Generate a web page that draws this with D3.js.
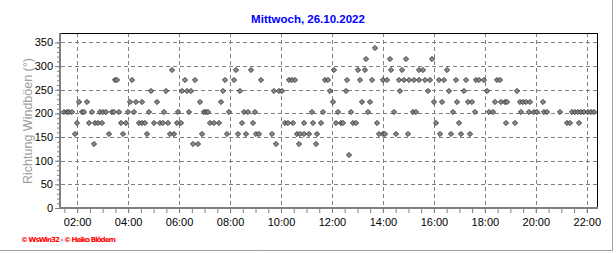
<!DOCTYPE html>
<html>
<head>
<meta charset="utf-8">
<script src="https://cdn.jsdelivr.net/npm/d3@7"></script>
<style>
  body { margin: 0; background: #fff; }
  svg { display: block; }
</style>
</head>
<body>
<script>
// Wind gust direction, Wednesday 26.10.2022
// one array of "HH:MM" readings per compass direction (degrees)

var dir112 = ["12:40"];
var dir135 = ["02:40", "06:32", "06:45", "09:48", "10:42", "11:22"];
var dir157 = ["01:55", "03:15", "03:48", "04:45", "05:38", "05:48", "06:53", "07:53", "08:19", "08:38",
              "09:02", "09:09", "09:39", "10:38", "10:45", "10:54", "11:07", "11:25",
              "13:51", "13:59", "14:05", "14:31", "15:00", "16:15", "16:40", "17:04", "17:25"];
var dir180 = ["02:00", "02:28", "02:43", "02:50", "02:58", "03:43", "03:54", "04:25", "04:32", "04:40",
              "05:00", "05:14", "05:21", "05:34", "05:55", "06:05", "07:13", "07:23", "07:35", "08:28",
              "08:54", "10:09", "10:16", "10:29", "10:53", "11:16", "11:34",
              "12:09", "12:21", "12:27", "12:49", "12:56", "13:47", "16:05", "17:00", "18:49", "19:10",
              "21:14", "21:20", "21:41"];
var dir202 = ["01:29", "01:36", "01:42", "01:48", "02:11", "02:17", "02:36", "02:54", "03:02", "03:09",
              "03:22", "03:26", "03:39", "04:00", "04:14", "04:49", "05:25", "05:58", "06:24", "06:59",
              "07:04", "07:09", "07:58", "08:33", "08:43", "08:59", "11:13", "11:39",
              "12:15", "12:45", "13:25", "14:26", "15:11", "15:18", "16:45", "17:36", "18:10", "18:18",
              "19:25", "19:44", "19:55", "20:02", "20:20", "20:27", "20:56", "21:26", "21:33", "21:39",
              "21:47", "21:54", "22:02", "22:09", "22:17"];
var dir225 = ["02:04", "02:24", "04:05", "04:19", "04:33", "05:08", "06:49", "07:38",
              "12:02", "13:10", "13:30", "16:01", "16:20", "16:55", "17:21", "17:29", "18:24", "18:39",
              "18:47", "18:53", "19:22", "19:30", "19:37", "19:47", "20:16"];
var dir247 = ["04:54", "05:29", "06:08", "06:18", "06:28", "07:44", "08:24", "09:43", "09:55", "10:02",
              "11:55", "12:32", "14:41", "15:47", "16:36", "17:11", "18:05", "19:16"];
var dir270 = ["03:29", "03:35", "04:09", "06:14", "06:37", "07:48", "08:09", "09:13", "10:18", "10:26",
              "10:34", "11:44", "11:50", "12:36", "13:07", "13:35", "14:00", "14:09", "14:37", "14:49",
              "15:02", "15:14", "15:24", "15:39", "15:51", "16:11", "16:24", "16:51", "17:15", "17:39",
              "17:45", "17:59", "18:28", "18:35"];
var dir292 = ["05:44", "08:14", "08:49", "12:05", "13:01", "13:17", "14:20", "14:45", "15:26", "15:35",
              "16:31"];
var dir315 = ["13:21", "14:16", "14:54", "15:56"];
var dir337 = ["13:42"];

var compass = [112.5, 135, 157.5, 180, 202.5, 225, 247.5, 270, 292.5, 315, 337.5];
var readings = [dir112, dir135, dir157, dir180, dir202, dir225, dir247, dir270, dir292, dir315, dir337];

var yTicks = [0, 50, 100, 150, 200, 250, 300, 350];

var title = "Mittwoch, 26.10.2022";
var yTitle = "Richtung Windböen (°)";
var credit = "© WsWin32 - © Heiko Blödern";

// ----------
var w = 616, h = 253;
var m = { left: 61, right: 597, top: 33, bottom: 208 };

var parseTime = d3.timeParse("%H:%M");

var points = [];
readings.forEach(function(list, i) {
  list.forEach(function(t) { points.push({ t: parseTime(t), v: compass[i] }); });
});

var x = d3.scaleTime()
    .domain([parseTime("01:22"), parseTime("22:24")])
    .range([m.left, m.right]);

var y = d3.scaleLinear()
    .domain([0, 370])
    .range([m.bottom, m.top]);

var svg = d3.select("body").append("svg")
    .attr("width", w)
    .attr("height", h)
    .style("font-family", "'Liberation Sans', Arial, sans-serif");

// outer frame (grey right / bottom edge)
svg.append("line").attr("x1", 612.5).attr("x2", 612.5).attr("y1", 0).attr("y2", 250)
    .attr("stroke", "#a0a0a0").attr("stroke-width", 1);
svg.append("line").attr("x1", 0).attr("x2", 613).attr("y1", 250.5).attr("y2", 250.5)
    .attr("stroke", "#a0a0a0").attr("stroke-width", 1);

// grid
var grid = svg.append("g")
    .attr("stroke", "#808080")
    .attr("stroke-dasharray", "4,3")
    .attr("shape-rendering", "crispEdges");

grid.selectAll("line.v")
    .data(x.ticks(d3.timeHour.every(2)))
    .enter().append("line")
    .attr("class", "v")
    .attr("x1", function(d) { return Math.round(x(d)) + 0.5; })
    .attr("x2", function(d) { return Math.round(x(d)) + 0.5; })
    .attr("y1", m.top)
    .attr("y2", m.bottom);

grid.selectAll("line.h")
    .data(yTicks.slice(1))
    .enter().append("line")
    .attr("class", "h")
    .attr("x1", m.left)
    .attr("x2", m.right)
    .attr("y1", function(d) { return Math.round(y(d)) + 0.5; })
    .attr("y2", function(d) { return Math.round(y(d)) + 0.5; });

// black top / right border
svg.append("path")
    .attr("d", "M" + m.left + "," + (m.top + 0.5) + "H" + (m.right + 0.5) + "V" + m.bottom)
    .attr("fill", "none")
    .attr("stroke", "#000")
    .attr("shape-rendering", "crispEdges");

// x axis: minor ticks every 30 min, labels every 2 hours
var xMinor = svg.append("g")
    .attr("transform", "translate(0," + (m.bottom + 1) + ")")
    .call(d3.axisBottom(x).ticks(d3.timeMinute.every(30)).tickSize(4).tickFormat(""));
var xMajor = svg.append("g")
    .attr("transform", "translate(0," + (m.bottom + 1) + ")")
    .call(d3.axisBottom(x).ticks(d3.timeHour.every(2)).tickSize(4).tickPadding(5)
      .tickFormat(d3.timeFormat("%H:%M")));

// y axis
var yMinor = svg.append("g")
    .attr("transform", "translate(" + (m.left - 1) + ",0)")
    .call(d3.axisLeft(y).tickValues(d3.range(0, 360, 10)).tickSize(3).tickFormat(""));
var yMajor = svg.append("g")
    .attr("transform", "translate(" + (m.left - 1) + ",0)")
    .call(d3.axisLeft(y).tickValues(yTicks).tickSize(5).tickPadding(2));

[xMinor, xMajor, yMinor, yMajor].forEach(function(g) {
  g.select(".domain").remove();
  g.selectAll(".tick line").attr("stroke", "#808080");
  g.selectAll(".tick text").attr("fill", "#000").style("font-size", "11px")
    .style("font-family", "'Liberation Sans', Arial, sans-serif");
});

// thick grey axis lines
svg.append("line").attr("x1", m.left - 1).attr("x2", m.left - 1).attr("y1", m.top).attr("y2", m.bottom + 1)
    .attr("stroke", "#808080").attr("stroke-width", 2);
svg.append("line").attr("x1", m.left - 2).attr("x2", m.right + 1).attr("y1", m.bottom).attr("y2", m.bottom)
    .attr("stroke", "#808080").attr("stroke-width", 2);

// points (small diamonds)
svg.append("g").selectAll("path")
    .data(points)
    .enter().append("path")
    .attr("transform", function(d) { return "translate(" + Math.round(x(d.t)) + "," + Math.round(y(d.v)) + ")"; })
    .attr("d", "M0,-2.6L2.6,0L0,2.6L-2.6,0Z")
    .attr("fill", "#8a8a8a")
    .attr("stroke", "#303030")
    .attr("stroke-width", 0.9);

// texts
svg.append("text")
    .attr("x", 308).attr("y", 23)
    .attr("text-anchor", "middle")
    .attr("fill", "#0000ff")
    .style("font-size", "11.5px")
    .style("font-weight", "bold")
    .text(title);

svg.append("text")
    .attr("transform", "translate(32,121) rotate(-90)")
    .attr("text-anchor", "middle")
    .attr("fill", "#a0a0a0")
    .style("font-size", "12.5px")
    .text(yTitle);

svg.append("text")
    .attr("x", 21).attr("y", 241.5)
    .attr("fill", "#ff0000")
    .attr("textLength", 95)
    .style("font-size", "7px")
    .style("font-weight", "bold")
    .style("font-family", "'DejaVu Sans', sans-serif")
    .text(credit);
</script>
</body>
</html>
